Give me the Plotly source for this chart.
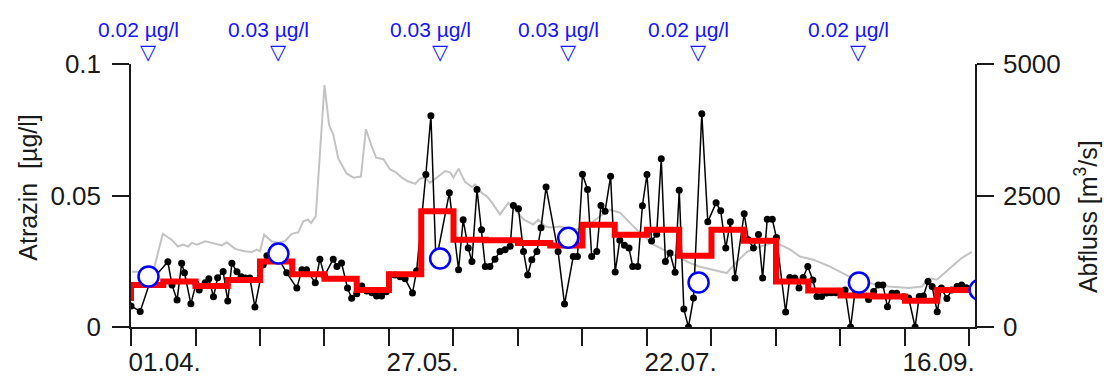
import pandas as pd
import plotly.graph_objects as go

# ---------------- data (days after 01.04.) ----------------
BASE = pd.Timestamp("2001-04-01")
X_END_DAY = 183.2

x_minor_days = [0, 14, 28, 42, 56, 70, 84, 98, 112, 126, 140, 154, 168, 182]
x_label_days = [0, 56, 112, 168]
x_tick_labels = ["01.04.", "27.05.", "22.07.", "16.09."]

y_left_ticks = [0, 0.05, 0.1]
y_left_labels = ["0", "0.05", "0.1"]
y_right_ticks = [0, 2500, 5000]
y_right_labels = ["0", "2500", "5000"]

# discharge (Abfluss, m3/s)
flow_day = [0.2, 4.8, 6.9, 8.8, 10.2, 11.3, 12.4, 13.2, 14.3, 16.1, 18.2, 19.7, 20.8, 22.6, 24.7,
            26.2, 27.3, 28.0, 28.9, 30.5, 32.0, 33.4, 34.9, 36.3, 37.4, 38.4, 39.1, 40.1, 42.0, 43.0,
            43.9, 45.0, 46.8, 48.3, 49.9, 51.0, 52.1, 53.2, 54.8, 56.2, 57.5, 58.8, 60.1, 61.7, 62.7,
            63.8, 64.9, 66.7, 68.2, 69.3, 70.0, 71.1, 72.5, 74.0, 74.7, 76.1, 77.3, 78.4, 80.1, 81.9,
            83.7, 85.3, 87.3, 88.4, 89.9, 91.0, 93.1, 96.0, 98.6, 101.8, 104.0, 106.2, 108.3, 110.5,
            113.4, 116.3, 119.2, 121.4, 123.5, 126.4, 129.3, 131.5, 133.7, 136.6, 139.4, 140.9, 143.1,
            145.2, 148.1, 151.3, 154.3, 157.2, 160.1, 164.4, 168.8, 171.7, 173.1, 174.9, 177.4, 180.3,
            182.5]
flow_q = [1050, 1050, 1770, 1660, 1530, 1565, 1530, 1600, 1565, 1630, 1585, 1550, 1610, 1485, 1440,
          1425, 1470, 1440, 1755, 1630, 1600, 1630, 1770, 1800, 2010, 2040, 1980, 2105, 4600, 3840,
          3660, 3200, 2920, 2840, 2860, 3760, 3470, 3220, 3190, 3000, 2940, 2840, 2770, 2720, 2820,
          2840, 2740, 2870, 2965, 2935, 2840, 3010, 2760, 2660, 2710, 2550, 2480, 2360, 2140, 2360,
          2200, 2040, 1950, 2040, 1915, 1890, 1910, 1850, 1890, 2105, 2230, 2170, 1980, 1790,
          1565, 1440, 1320, 1215, 1145, 1090, 1025, 1240, 1430, 1530, 1600, 1565, 1470,
          1340, 1280, 1165, 1025, 900, 835, 770, 740, 770, 930, 900, 1090, 1310,
          1430]

# Atrazin, frequent samples (µg/l)
atr_day = [0.0, 2.0, 4.1, 8.0, 8.9, 10.0, 11.0, 11.6, 13.0, 14.1,
           14.8, 16.1, 16.9, 17.9, 18.8, 20.0, 21.0, 21.9, 23.0, 23.9,
           24.8, 25.8, 26.9, 28.7, 29.5, 31.3, 33.8, 36.0, 37.1, 38.1,
           40.0, 41.0, 42.0, 43.9, 44.7, 45.7, 47.0, 47.9, 49.0, 50.1,
           51.2, 52.3, 53.3, 54.4, 55.4, 56.2, 57.3, 58.4, 59.5, 61.1,
           62.0, 64.0, 65.1, 66.2, 69.1, 71.1, 72.1, 73.2, 74.0, 75.1,
           76.1, 76.9, 77.9, 79.0, 80.1, 81.2, 82.3, 83.0, 84.1, 85.2,
           86.1, 87.0, 88.1, 89.0, 90.1, 92.7, 94.1, 96.0, 96.9, 98.0,
           99.1, 100.0, 101.1, 102.0, 102.9, 104.1, 105.1, 106.1, 107.1, 108.1,
           108.9, 110.0, 111.0, 112.0, 113.0, 114.1, 115.1, 116.0, 117.0, 118.1,
           119.0, 120.0, 121.0, 122.1, 123.9, 125.2, 127.0, 128.0, 129.1, 130.1,
           131.1, 133.1, 134.0, 135.1, 136.2, 137.1, 138.1, 139.2, 140.1, 142.1,
           143.0, 144.1, 145.0, 145.9, 146.9, 148.0, 148.9, 149.9, 151.0, 152.0,
           153.0, 154.0, 155.0, 156.2, 157.2, 160.1, 161.2, 162.2, 163.2, 164.2,
           165.2, 166.2, 167.7, 168.8, 170.2, 171.1, 172.0, 173.0, 173.9, 175.0,
           175.9, 177.1, 178.1, 179.3, 180.3, 181.3]
atr_val = [0.0080, 0.0059, 0.0170, 0.0248, 0.0160, 0.0103, 0.0242, 0.0206, 0.0088, 0.0164,
           0.0141, 0.0168, 0.0183, 0.0115, 0.0187, 0.0211, 0.0099, 0.0242, 0.0210, 0.0191,
           0.0186, 0.0186, 0.0076, 0.0237, 0.0271, 0.0282, 0.0206, 0.0148, 0.0218, 0.0218,
           0.0168, 0.0258, 0.0195, 0.0258, 0.0230, 0.0243, 0.0148, 0.0109, 0.0126, 0.0156,
           0.0137, 0.0130, 0.0118, 0.0118, 0.0134, 0.0198, 0.0198, 0.0191, 0.0183, 0.0129,
           0.0214, 0.0580, 0.0803, 0.0248, 0.0510, 0.0218, 0.0408, 0.0300, 0.0249, 0.0523,
           0.0370, 0.0230, 0.0230, 0.0258, 0.0287, 0.0294, 0.0307, 0.0462, 0.0450, 0.0287,
           0.0198, 0.0256, 0.0287, 0.0377, 0.0532, 0.0287, 0.0087, 0.0268, 0.0268, 0.0581,
           0.0523, 0.0268, 0.0287, 0.0462, 0.0440, 0.0573, 0.0209, 0.0330, 0.0311, 0.0300,
           0.0230, 0.0230, 0.0461, 0.0580, 0.0327, 0.0353, 0.0640, 0.0249, 0.0281, 0.0208,
           0.0520, 0.0068, 0.0000, 0.0110, 0.0811, 0.0400, 0.0472, 0.0442, 0.0300, 0.0400,
           0.0186, 0.0431, 0.0332, 0.0300, 0.0352, 0.0186, 0.0410, 0.0410, 0.0340, 0.0057,
           0.0188, 0.0186, 0.0148, 0.0188, 0.0230, 0.0179, 0.0116, 0.0116, 0.0129, 0.0130,
           0.0130, 0.0134, 0.0141, 0.0000, 0.0141, 0.0105, 0.0135, 0.0160, 0.0160, 0.0077,
           0.0128, 0.0128, 0.0115, 0.0110, 0.0000, 0.0116, 0.0118, 0.0173, 0.0154, 0.0058,
           0.0148, 0.0108, 0.0141, 0.0154, 0.0160, 0.0149]

# weekly composite samples (start day of each week)
week_start = [-7, 0, 7, 14, 21, 28, 35, 42, 49, 56, 63, 70, 77, 84, 91, 98, 105, 112, 119,
              126, 133, 140, 147, 154, 161, 168, 175, 182, 189]
week_val = [0.0110, 0.0160, 0.0173, 0.0156, 0.0179, 0.0249, 0.0201, 0.0183, 0.0141, 0.0201,
            0.0440, 0.0332, 0.0330, 0.0319, 0.0310, 0.0389, 0.0351, 0.0370, 0.0271, 0.0370,
            0.0328, 0.0173, 0.0139, 0.0120, 0.0116, 0.0100, 0.0141, 0.0141, 0.0141]

# monthly grab samples
grab_day = [3.8, 32.0, 67.1, 94.9, 123.2, 158.0, 184.2]
grab_val = [0.0192, 0.0279, 0.0260, 0.0339, 0.0169, 0.0169, 0.0141]
grab_label = ["0.02 µg/l", "0.03 µg/l", "0.03 µg/l", "0.03 µg/l", "0.02 µg/l", "0.02 µg/l"]


def to_date(days):
    return [BASE + pd.to_timedelta(d, unit="D") for d in days]


FONT = "Liberation Sans, Arial, sans-serif"
INK = "#1a1a1a"
BLUE = "#1414ff"

fig = go.Figure()

fig.add_trace(go.Scatter(x=to_date(flow_day), y=flow_q, mode="lines", yaxis="y",
                         line=dict(color="#c3c3c3", width=2), hoverinfo="skip"))
fig.add_trace(go.Scatter(x=to_date(atr_day), y=atr_val, mode="lines+markers", yaxis="y2",
                         line=dict(color="black", width=1.5),
                         marker=dict(color="black", size=7)))
fig.add_trace(go.Scatter(x=to_date(week_start), y=week_val, mode="lines", yaxis="y2",
                         line=dict(color="#ff0000", width=6, shape="hv")))
fig.add_trace(go.Scatter(x=to_date(grab_day), y=grab_val, mode="markers", yaxis="y2",
                         marker=dict(symbol="circle", size=20, color="white",
                                     line=dict(color="#0000ff", width=2.5))))

annotations = []
for d, lab in zip(grab_day, grab_label):
    xd = BASE + pd.to_timedelta(d, unit="D")
    annotations.append(dict(x=xd, xref="x", y=1, yref="paper", text=lab, showarrow=False,
                            xanchor="center", yanchor="bottom", yshift=21, xshift=-10,
                            font=dict(family=FONT, size=21, color=BLUE)))
    annotations.append(dict(x=xd, xref="x", y=1, yref="paper", text="▽", showarrow=False,
                            xanchor="center", yanchor="middle", yshift=12,
                            font=dict(family="DejaVu Sans", size=21, color=BLUE)))

annotations.append(dict(x=-0.122, xref="paper", y=0.53, yref="paper",
                        text="Atrazin\u00a0\u00a0[µg/l]", textangle=-90, showarrow=False,
                        xanchor="center", yanchor="middle",
                        font=dict(family=FONT, size=25, color=INK)))
annotations.append(dict(x=1.131, xref="paper", y=0.42, yref="paper",
                        text="Abfluss [m<sup>3</sup>/s]", textangle=-90, showarrow=False,
                        xanchor="center", yanchor="middle",
                        font=dict(family=FONT, size=25, color=INK)))

axis_common = dict(showgrid=False, zeroline=False, showline=True, linecolor=INK,
                   linewidth=1.5, ticks="outside", ticklen=17, tickwidth=1.5, tickcolor=INK,
                   automargin=False,
                   tickfont=dict(family=FONT, size=26, color=INK))

fig.update_layout(
    width=1110, height=383,
    margin=dict(l=131, r=135, t=64, b=56, pad=0, autoexpand=False),
    paper_bgcolor="white", plot_bgcolor="white",
    showlegend=False,
    annotations=annotations,
    xaxis=dict(type="date",
               range=[BASE, BASE + pd.to_timedelta(X_END_DAY, unit="D")],
               tickmode="array", tickvals=to_date(x_label_days), ticktext=x_tick_labels,
               ticklabelposition="outside right", ticklabelstandoff=11, ticklabelshift=-4,
               minor=dict(tickmode="array", tickvals=to_date(x_minor_days), ticks="outside",
                          ticklen=17, tickwidth=1.5, tickcolor=INK),
               **axis_common),
    yaxis=dict(side="right", range=[0, 5000], tickmode="array", ticklabelstandoff=4,
               tickvals=y_right_ticks, ticktext=y_right_labels, **axis_common),
    yaxis2=dict(side="left", overlaying="y", range=[0, 0.1], tickmode="array",
                ticklabelstandoff=6,
                tickvals=y_left_ticks, ticktext=y_left_labels, **axis_common),
)

fig.write_html("out.html")
